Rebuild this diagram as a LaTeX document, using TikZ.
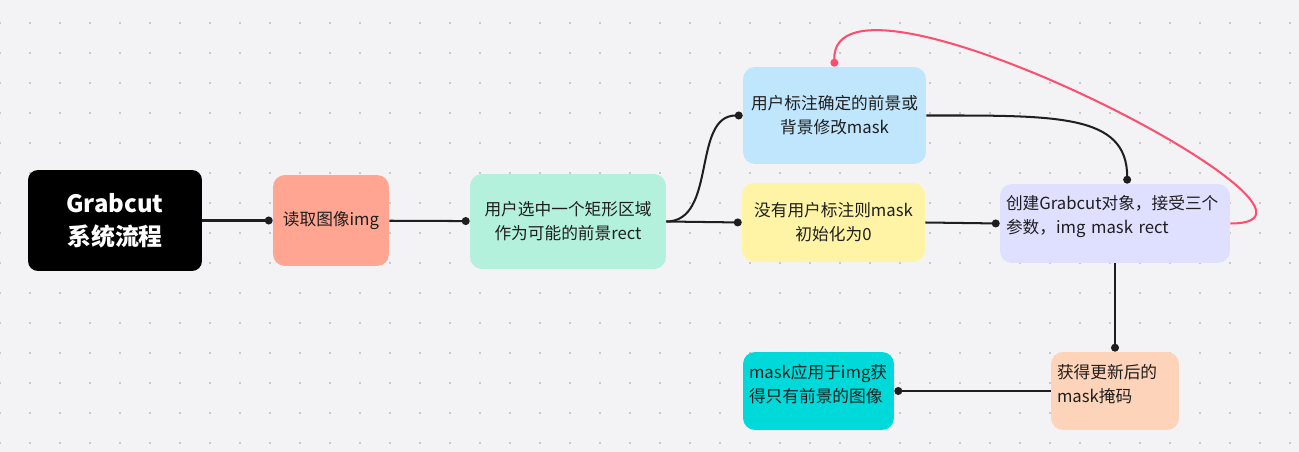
\documentclass[tikz,border=0pt]{standalone}
\usepackage{fontspec}
\setmainfont{Noto Sans CJK SC}
\usetikzlibrary{arrows.meta}

\definecolor{bgpaper}{HTML}{F3F3F5}
\definecolor{griddot}{HTML}{C9C9CC}
\definecolor{inkdark}{HTML}{1E1E1E}
\definecolor{salmonbox}{HTML}{FFA591}
\definecolor{mintbox}{HTML}{B3F1DC}
\definecolor{bluebox}{HTML}{C0E6FD}
\definecolor{yellowbox}{HTML}{FFF3A6}
\definecolor{lavenderbox}{HTML}{DFE0FF}
\definecolor{peachbox}{HTML}{FDD4B9}
\definecolor{cyanbox}{HTML}{00D9D9}
\definecolor{redloop}{HTML}{FF4D6D}

\tikzset{
  box/.style={rounded corners=0.24cm, inner sep=0pt, text=inkdark,
    font=\fontsize{9.5}{13.6}\selectfont, align=center},
  leftbox/.style={box, align=left, inner xsep=0.12cm, execute at end node={\par\vspace{8pt}}},
  link/.style={draw=inkdark, line width=1.15pt, -{Circle[length=4.5pt]}},
}

\begin{document}
\begin{tikzpicture}[x=0.02cm, y=-0.02cm]
				% paper and dot grid
				\useasboundingbox[fill=bgpaper] (0,0) rectangle (1299,452);
				\foreach \i in {0,...,43}
				  \foreach \j in {0,...,14}
				    \fill[griddot] (30*\i-1.2,23+30*\j-1.2) rectangle ++(2.4,2.4);

				% steps
				\node[box, fill=black, text=white, rounded corners=0.2cm, minimum width=3.48cm, minimum height=2.02cm,
				  font=\fontsize{13.6}{19}\selectfont\bfseries] (title) at (115,220.5) {Grabcut\\系统流程};
				\node[box, fill=salmonbox, minimum width=2.32cm, minimum height=1.82cm] (read) at (331,220.5) {读取图像img};
				\node[box, fill=mintbox, minimum width=3.92cm, minimum height=1.90cm] (select) at (568,221.5) {用户选中一个矩形区域\\作为可能的前景rect};
				\node[box, fill=bluebox, minimum width=3.66cm, minimum height=1.94cm] (usermark) at (834.5,115.5) {用户标注确定的前景或\\背景修改mask};
				\node[box, fill=yellowbox, minimum width=3.66cm, minimum height=1.58cm] (nomark) at (833.5,222.5) {没有用户标注则mask\\初始化为0};
				\node[leftbox, fill=lavenderbox, text width=4.36cm, minimum height=1.58cm] (create) at (1115,223.5) {创建Grabcut对象，接受三个\\参数，img mask rect};
				\node[leftbox, fill=peachbox, text width=2.32cm, minimum height=1.56cm] (update) at (1115,391) {获得更新后的\\mask掩码};
				\node[leftbox, fill=cyanbox, text width=2.78cm, minimum height=1.56cm] (apply) at (818.5,391) {mask应用于img获\\得只有前景的图像};

				\draw[link] (title) -- (read);
				\draw[link] (read) -- (select);
				\draw[link] (select.east) to[out=0, in=180] (usermark.west);
				\draw[link] (select.east) -- (nomark.west);
				\draw[link] (usermark.east) .. controls +(130,0) and +(0,-70) .. (create.73);
				\draw[link] (nomark.east) -- (create.west);
				\draw[link] (create.south) -- (update.north);
				\draw[link] (update.west) -- (apply.east);
				\draw[link, draw=redloop] (create.east) .. controls +(150,0) and +(-4,-127) .. (usermark.north);
		\end{tikzpicture}
\end{document}
